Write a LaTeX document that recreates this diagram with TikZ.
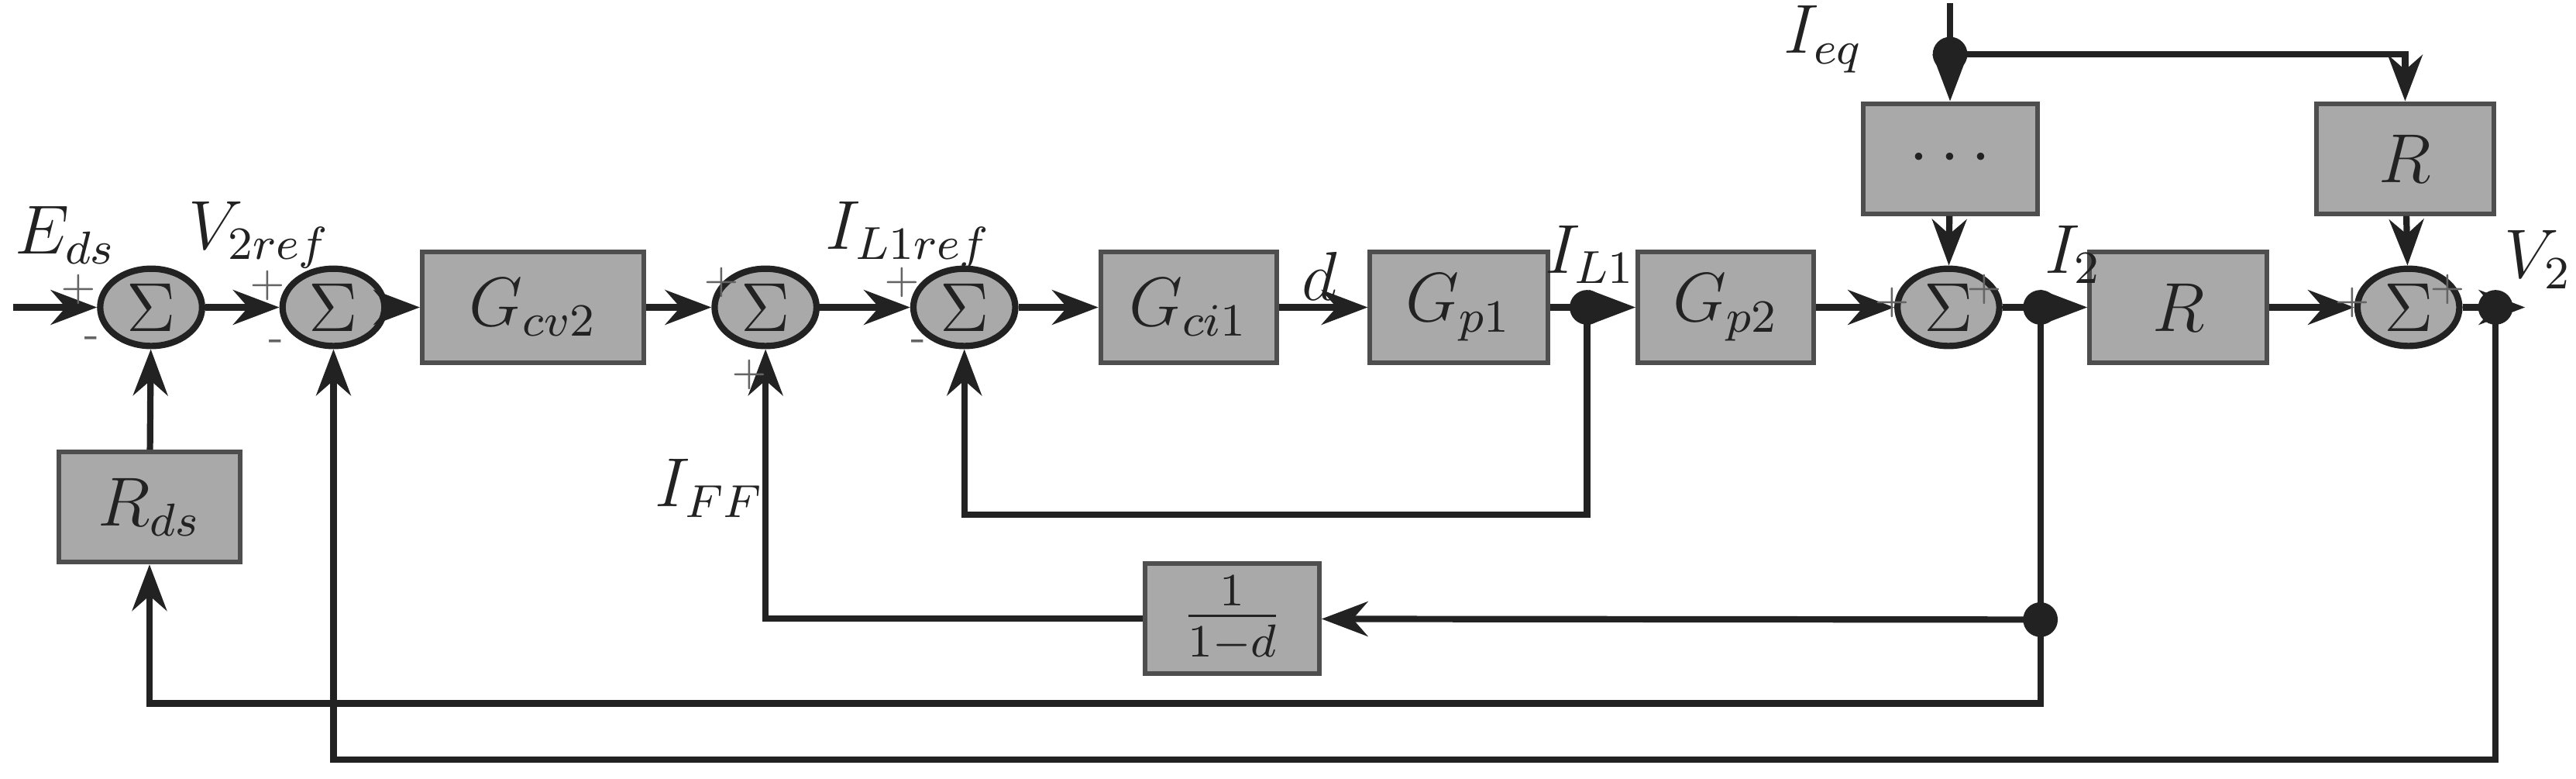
\documentclass[tikz,border=0pt]{standalone}
\usetikzlibrary{arrows.meta,shapes.geometric}
\definecolor{bfill}{HTML}{A9A9A9}
\definecolor{ln}{HTML}{222222}
\begin{document}
\begin{tikzpicture}[x=0.01cm,y=-0.01cm,
  >={Stealth[length=8pt,width=6pt]},
  line width=1.1pt, color=ln,
  blk/.style={draw=ln!80,line width=0.8pt,fill=bfill,rectangle,minimum height=0.67cm,inner sep=0pt,font=\large},
  sm/.style={draw=ln,line width=1.1pt,fill=bfill,ellipse,minimum width=0.62cm,minimum height=0.47cm,inner sep=0pt,font=\large},
  dot/.style={circle,fill=ln,draw=none,minimum size=6pt,inner sep=0pt},
  lab/.style={font=\large},
  sg/.style={font=\scriptsize,text=ln!70}]
\useasboundingbox (0,0) rectangle (1568,473.5);
\node[sm] (s1) at (92,187) {$\Sigma$};
\node[sm] (s2) at (203,187) {$\Sigma$};
\node[blk,minimum width=1.35cm] (gcv) at (324.5,187) {$G_{cv2}$};
\node[sm] (s3) at (466,187) {$\Sigma$};
\node[sm] (s4) at (587,187) {$\Sigma$};
\node[blk,minimum width=1.07cm] (gci) at (723.5,187) {$G_{ci1}$};
\node[blk,minimum width=1.08cm] (gp1) at (888,187) {$G_{p1}$};
\node[dot] (dil) at (966,187) {};
\node[blk,minimum width=1.07cm] (gp2) at (1050.5,187) {$G_{p2}$};
\node[sm] (s5) at (1186,187) {$\Sigma$};
\node[dot] (di2) at (1242,187) {};
\node[blk,minimum width=1.08cm] (r1) at (1326,187) {$R$};
\node[sm] (s6) at (1466,187) {$\Sigma$};
\node[dot] (dv2) at (1519,187) {};
\coordinate (out) at (1537,187);
\coordinate (in) at (8,187);
\node[blk,minimum width=1.06cm] (dots) at (1187,96.5) {$\cdots$};
\node[blk,minimum width=1.08cm] (r2) at (1464,96.5) {$R$};
\node[dot] (dq) at (1187,33) {};
\coordinate (qin) at (1187,2);
\node[blk,minimum width=1.1cm] (rds) at (91,308.5) {$R_{ds}$};
\node[blk,minimum width=1.06cm] (ff) at (750,376.5) {$\frac{1}{1-d}$};
\node[dot] (dff) at (1242,377) {};
% main chain
\draw[->] (in) -- (s1);
\draw[->] (s1) -- (s2);
\draw[->] (s2) -- (gcv);
\draw[->] (gcv) -- (s3);
\draw[->] (s3) -- (s4);
\draw[->] (s4) -- (gci);
\draw[->] (gci) -- (gp1);
\draw (gp1) -- (dil.center);
\draw[->] (dil.center) -- (gp2);
\draw[->] (gp2) -- (s5);
\draw (s5) -- (di2.center);
\draw[->] (di2.center) -- (r1);
\draw[->] (r1) -- (s6);
\draw (s6) -- (dv2.center);
\draw[->] (dv2.center) -- (out);
% top
\draw (qin) -- (dq.center);
\draw[->] (dq.center) -- (dots);
\draw[->] (dq.center) -| (r2);
\draw[->] (dots) -- (s5);
\draw[->] (r2) -- (s6);
% feedbacks
\draw[->] (rds) -- (s1);
\draw[->] (dil.center) -- (966,313) -| (s4);
\draw (di2.center) -- (dff.center);
\draw[->] (dff.center) -- (ff);
\draw[->] (ff) -| (s3);
\draw[->] (dff.center) -- (1242,428) -| (rds);
\draw[->] (dv2.center) -- (1519,462) -| (s2);
% labels
\node[lab] at (40,143) {$E_{ds}$};
\node[lab] at (158,143) {$V_{2ref}$};
\node[lab] at (553,143) {$I_{L1ref}$};
\node[lab] at (803,168) {$d$};
\node[lab] at (968,155) {$I_{L1}$};
\node[lab] at (1110,24) {$I_{eq}$};
\node[lab] at (1262,155) {$I_2$};
\node[lab] at (1545,158) {$V_2$};
\node[lab] at (432,297) {$I_{FF}$};
% signs
\node[sg] at (48,176) {$+$};
\node[sg] at (56,208) {-};
\node[sg] at (163,174) {$+$};
\node[sg] at (168,210) {-};
\node[sg] at (439,172) {$+$};
\node[sg] at (456,228) {$+$};
\node[sg] at (549,172) {$+$};
\node[sg] at (559,210) {-};
\node[sg] at (1152,184) {$+$};
\node[sg] at (1208,176) {$+$};
\node[sg] at (1432,184) {$+$};
\node[sg] at (1490,176) {$+$};
\end{tikzpicture}
\end{document}
